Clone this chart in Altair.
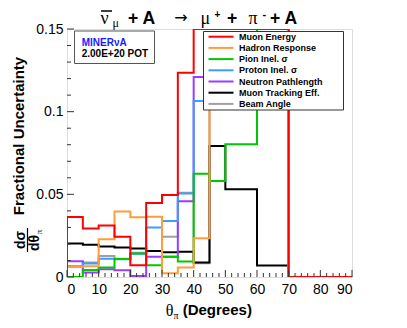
import altair as alt
import pandas as pd

# ---------------- data ----------------
bin_edges = [0, 5, 10, 15, 20, 25, 30, 35, 40, 45, 50, 60, 70, 90]
series_names = ["Muon Energy", "Hadron Response", "Pion Inel. σ", "Proton Inel. σ",
                "Neutron Pathlength", "Muon Tracking Eff.", "Beam Angle"]
series_colors = ["#ff0000", "#ff9c3c", "#00c800", "#3c9cff", "#9a3cff", "#000000", "#a0a0a0"]

muon_energy = [0.0363, 0.0293, 0.0312, 0.0243, 0.0071, 0.0448, 0.0496, 0.1236, 0.150, 0.150, 0.150, 0.150, 0.0]
hadron_response = [0.0062, 0.0065, 0.0228, 0.0396, 0.0361, 0.0365, 0.0022, 0.0057, 0.0235, 0.130, 0.130, 0.130, 0.0]
pion_inel = [0.0, 0.0042, 0.0057, 0.0109, 0.0142, 0.0071, 0.0123, 0.0093, 0.0625, 0.0580, 0.0803, 0.150, 0.0]
proton_inel = [0.0063, 0.0082, 0.0110, 0.0108, 0.0141, 0.0299, 0.0339, 0.0505, 0.1065, 0.125, 0.125, 0.125, 0.0]
neutron_path = [0.0095, 0.0027, 0.0047, 0.0041, 0.0006, 0.0123, 0.0122, 0.0458, 0.121, 0.120, 0.120, 0.120, 0.0]
muon_tracking = [0.0202, 0.0195, 0.0184, 0.0178, 0.0173, 0.0158, 0.0149, 0.0152, 0.0088, 0.0793, 0.0530, 0.0069, 0.0]
beam_angle = [0.0065, 0.0087, 0.0127, 0.0110, 0.0146, 0.0157, 0.0244, 0.0510, 0.0083, 0.115, 0.115, 0.115, 0.0]

series_values = [muon_energy, hadron_response, pion_inel, proton_inel,
                 neutron_path, muon_tracking, beam_angle]

x_major_ticks = [0, 10, 20, 30, 40, 50, 60, 70, 80, 90]
x_minor_ticks = [2, 4, 6, 8, 12, 14, 16, 18, 22, 24, 26, 28, 32, 34, 36, 38, 42, 44, 46, 48,
                 52, 54, 56, 58, 62, 64, 66, 68, 72, 74, 76, 78, 82, 84, 86, 88]
y_major_ticks = [0, 0.05, 0.10, 0.15]
y_minor_ticks = [0.01, 0.02, 0.03, 0.04, 0.06, 0.07, 0.08, 0.09, 0.11, 0.12, 0.13, 0.14]

# ---------------- helpers ----------------
W, H = 285, 248
FONT = "Liberation Sans"
SERIF = "Liberation Serif"

xs = alt.Scale(domain=[0, 90], nice=False, zero=False)
ys = alt.Scale(domain=[0, 0.15], nice=False, zero=False)
ax_x = alt.Axis(values=x_major_ticks, title=None, ticks=False, tickSize=0, domain=False, grid=False,
                labelFont=FONT, labelFontSize=14, labelColor="black", labelPadding=5,
                labelOverlap=False, labelExpr="format(datum.value, 'd')")
ax_y = alt.Axis(values=y_major_ticks, title=None, ticks=False, tickSize=0, domain=False, grid=False,
                labelFont=FONT, labelFontSize=14, labelColor="black", labelPadding=4,
                labelOverlap=False,
                labelExpr="datum.value < 0.001 ? '0' : format(datum.value, '.2~f')")

one = pd.DataFrame({"a": [0]})


def txt(s, x, y, size, font=FONT, weight="bold", color="black", align="left",
        baseline="alphabetic", angle=0):
    return alt.Chart(one).mark_text(text=s, font=font, fontSize=size, fontWeight=weight,
                                    color=color, align=align, baseline=baseline,
                                    angle=angle).encode(x=alt.value(x), y=alt.value(y))


def step_frame(name, vals):
    rows = [{"x": bin_edges[0], "y": 0.0, "k": 0}]
    k = 1
    for i, v in enumerate(vals):
        rows.append({"x": bin_edges[i], "y": v, "k": k}); k += 1
        rows.append({"x": bin_edges[i + 1], "y": v, "k": k}); k += 1
    rows.append({"x": bin_edges[-1], "y": 0.0, "k": k})
    df = pd.DataFrame(rows)
    df["s"] = name
    return df


layers = []

# histograms, drawn in reverse legend order (red on top)
for name, col, vals in reversed(list(zip(series_names, series_colors, series_values))):
    layers.append(
        alt.Chart(step_frame(name, vals)).mark_line(color=col, strokeWidth=2, clip=True,
                                                     strokeJoin="miter")
        .encode(x=alt.X("x:Q", scale=xs, axis=ax_x),
                y=alt.Y("y:Q", scale=ys, axis=ax_y),
                order="k:Q")
    )

# inner ticks (ROOT style)
tick_col = "#333333"
layers.append(alt.Chart(pd.DataFrame({"x": x_major_ticks})).mark_rule(color=tick_col, strokeWidth=1)
              .encode(x=alt.X("x:Q", scale=xs, axis=ax_x), y=alt.value(H), y2=alt.value(H - 7)))
layers.append(alt.Chart(pd.DataFrame({"x": x_minor_ticks})).mark_rule(color=tick_col, strokeWidth=1)
              .encode(x=alt.X("x:Q", scale=xs, axis=ax_x), y=alt.value(H), y2=alt.value(H - 4)))
layers.append(alt.Chart(pd.DataFrame({"y": y_major_ticks})).mark_rule(color=tick_col, strokeWidth=1)
              .encode(y=alt.Y("y:Q", scale=ys, axis=ax_y), x=alt.value(0), x2=alt.value(7)))
layers.append(alt.Chart(pd.DataFrame({"y": y_minor_ticks})).mark_rule(color=tick_col, strokeWidth=1)
              .encode(y=alt.Y("y:Q", scale=ys, axis=ax_y), x=alt.value(0), x2=alt.value(4)))

# legend box
layers.append(alt.Chart(one).mark_rect(fill="white", stroke="#333333", strokeWidth=1)
              .encode(x=alt.value(136.5), x2=alt.value(276.5), y=alt.value(2.5), y2=alt.value(81)))
for i, (name, col) in enumerate(zip(series_names, series_colors)):
    yy = 7.7 + i * 11.2
    layers.append(alt.Chart(one).mark_rule(color=col, strokeWidth=2)
                  .encode(x=alt.value(141.5), x2=alt.value(166.5), y=alt.value(yy)))
    layers.append(txt(name, 172, yy, 9, baseline="middle"))

# MINERvA box
layers.append(alt.Chart(one).mark_rect(fill="white", stroke="#555555", strokeWidth=1)
              .encode(x=alt.value(7.5), x2=alt.value(87.5), y=alt.value(2), y2=alt.value(34.5)))
layers.append(txt("MINERνA", 14.7, 13.7, 10, color="#1a1aff", baseline="middle"))
layers.append(txt("2.00E+20 POT", 14.7, 24.5, 10, baseline="middle"))

# title:  nu-bar_mu + A -> mu+ + pi- + A
TB = -5.0  # title baseline (plot coords)
layers.append(txt("ν", 33.5, TB, 18, font=SERIF, weight="normal"))
layers.append(alt.Chart(one).mark_rule(color="black", strokeWidth=1.5)
              .encode(x=alt.value(34), x2=alt.value(45), y=alt.value(TB - 13)))
layers.append(txt("μ", 45.5, TB + 2.5, 12, font=SERIF, weight="normal"))
layers.append(txt("+ A", 61, TB, 17.5))
layers.append(txt("→", 114, TB - 6, 16, font="DejaVu Sans", weight="normal", align="center",
                  baseline="middle"))
layers.append(txt("μ", 133.5, TB, 18, font=SERIF, weight="normal"))
layers.append(txt("+", 147.5, TB - 6.5, 10))
layers.append(txt("+", 160, TB, 17.5))
layers.append(txt("π", 181.5, TB, 18, font=SERIF, weight="normal"))
layers.append(txt("-", 195.5, TB - 6.5, 11))
layers.append(txt("+ A", 203, TB, 17.5))

# x-axis title: theta_pi (Degrees)
layers.append(txt("θ", 98.7, 287, 16, font=SERIF, weight="normal"))
layers.append(txt("π", 106.5, 289.5, 10, font=SERIF, weight="normal"))
layers.append(txt("(Degrees)", 115.7, 286, 15))

# y-axis title: dsigma/dtheta_pi Fractional Uncertainty
FY = 211  # centre of the fraction (plot coords)
layers.append(txt("Fractional Uncertainty", -48, 107, 15, angle=270, align="center", baseline="middle"))
layers.append(txt("dσ", -46, FY, 14, angle=270, align="center", baseline="middle"))
layers.append(alt.Chart(one).mark_rule(color="black", strokeWidth=1.2)
              .encode(x=alt.value(-39.5), x2=alt.value(-39.5), y=alt.value(FY - 12), y2=alt.value(FY + 12)))
layers.append(txt("dθ", -32, FY + 3, 14, angle=270, align="center", baseline="middle"))
layers.append(txt("π", -28, FY - 8, 9, font=SERIF, weight="normal", angle=270, align="center",
                  baseline="middle"))

chart = (
    alt.layer(*layers)
    .properties(width=W, height=H,
                autosize=alt.AutoSizeParams(type="none"),
                padding={"left": 59, "top": 21, "right": 40, "bottom": 42})
    .configure_view(stroke="#333333", strokeWidth=1)
    .configure(background="white")
)

chart.save("out.html", embed_options={"renderer": "svg", "actions": False})
